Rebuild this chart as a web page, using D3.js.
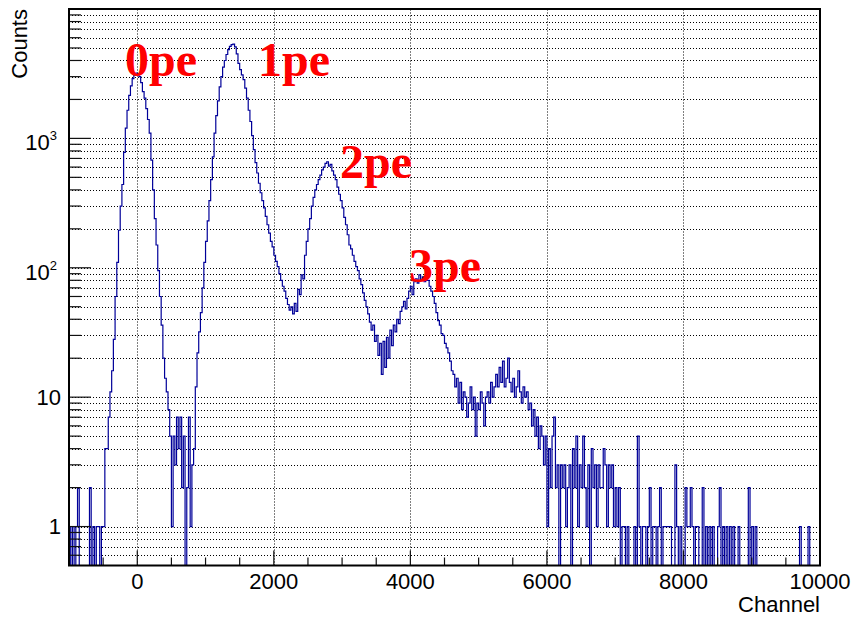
<!DOCTYPE html>
<html>
<head>
<meta charset="utf-8">
<script src="https://cdn.jsdelivr.net/npm/d3@7"></script>
<style>
body { margin: 0; background: #fff; }
</style>
</head>
<body>
<div id="chart"></div>
<script>
// histogram settings: 440 bins of 25 channels starting at -1000
var binStart = -1000;
var binWidth = 25;

// counts per bin (20 bins per row)
var counts = [
  1,0,1,0,1,2,0,0,0,0, 0,0,2,0,1,0,1,1,0,1,
  1,4,4,7,11,16,28,60,110,195, 300,440,780,1200,1650,2150,2550,2900,3100,3200,
  3150,3000,2700,2300,2050,1700,1400,1100,680,400, 240,150,95,60,36,20,14,11,8,5,
  1,5,3,7,4,7,2,5,0,2, 7,1,3,4,12,22,32,45,70,110,
  160,230,330,480,720,1100,1500,1950,2500,3000, 3550,4000,4450,4850,5150,5300,5350,5100,4500,3800,
  3400,3100,2850,2450,2050,1650,1350,1050,820,650, 540,450,380,330,290,250,215,185,160,145,
  125,112,102,90,80,72,66,58,52,47, 50,44,53,46,68,62,88,82,125,160,
  200,240,300,350,400,440,480,520,570,600, 640,660,610,630,560,520,480,420,370,330,
  290,245,215,180,150,140,125,112,102,95, 82,74,64,56,50,44,38,33,36,27,
  30,21,26,15,27,17,29,20,33,25, 36,32,40,37,46,50,55,48,58,66,
  72,62,78,82,76,88,80,85,78,86, 80,72,66,60,53,45,39,36,31,30,
  26,24,22,19,16,15,12,14,9,13, 8,11,10,7,9,12,8,10,5,9,
  8,11,9,6,10,11,9,13,10,12, 15,12,17,13,19,12,14,20,13,11,
  14,10,12,16,11,9,12,10,11,8, 9,6,8,5,7,4,6,5,3,5,
  1,4,2,5,7,2,3,0,3,2, 3,1,2,3,0,4,2,5,1,3,
  2,5,2,1,3,0,4,2,3,1, 3,2,2,4,3,1,3,2,3,1,
  2,1,2,0,1,1,0,1,0,0, 0,1,0,5,1,0,1,1,0,1,
  2,0,1,1,0,1,2,0,1,1, 1,1,1,0,0,3,1,0,1,0,
  0,2,1,1,2,1,0,1,1,0, 0,2,0,1,0,1,0,1,0,0,
  1,2,0,1,0,1,0,1,0,1, 0,0,1,0,0,0,0,0,2,0,
  1,0,1,0,0,0,0,0,0,0, 0,0,0,0,0,0,0,0,0,0,
  0,0,0,0,0,0,0,0,1,0, 0,0,0,1,0,0,0,0,0,0
];

// axis ticks and labels
var xMajor = [0, 2000, 4000, 6000, 8000, 10000];
var yMajor = [1, 10, 100, 1000];
var yBase = ["1", "10", "10", "10"];
var yPow = ["", "", "2", "3"];

// peak annotations (channel, counts at baseline)
var peakNames = ["0pe", "1pe", "2pe", "3pe"];
var peakX = [-180, 1768, 2969, 3980];
var peakY = [3020, 3020, 493, 78];

var W = 866, H = 620;
var frame = {left: 69, right: 820, top: 9, bottom: 565.5};

var svg = d3.select("#chart").append("svg")
    .attr("width", W)
    .attr("height", H)
    .style("font-family", "'Liberation Sans', Arial, sans-serif");

var x = d3.scaleLinear().domain([-1000, 10000]).range([frame.left, frame.right]);
var y = d3.scaleLog().domain([0.5, 10000]).range([frame.bottom, frame.top]);

// minor ticks of the log axis: 2..9 in every decade
var yMinor = [];
[0.1, 1, 10, 100, 1000].forEach(function(d) {
    for (var k = 2; k <= 9; k++) {
        var v = d * k;
        if (v > 0.5 && v < 10000) yMinor.push(v);
    }
});
var xMinor = d3.range(-500, 10000, 500).filter(function(v) { return xMajor.indexOf(v) < 0; });

// grid
var grid = svg.append("g").attr("stroke", "#000").attr("stroke-width", 1)
    .attr("stroke-dasharray", "1,2");
grid.selectAll(".hg")
    .data(yMajor.concat(yMinor))
    .enter().append("line")
    .attr("x1", frame.left).attr("x2", frame.right)
    .attr("y1", d => Math.round(y(d)) + 0.5)
    .attr("y2", d => Math.round(y(d)) + 0.5);
grid.selectAll(".vg")
    .data(xMajor.slice(0, -1))
    .enter().append("line")
    .attr("y1", frame.bottom).attr("y2", frame.top)
    .attr("x1", d => Math.round(x(d)) + 0.5)
    .attr("x2", d => Math.round(x(d)) + 0.5);

// histogram as a step line
svg.append("clipPath").attr("id", "clip")
    .append("rect").attr("x", frame.left).attr("y", frame.top)
    .attr("width", frame.right - frame.left).attr("height", frame.bottom - frame.top);

var pts = counts.map(function(c, i) { return [binStart + i * binWidth, c]; });
pts.push([binStart + counts.length * binWidth, counts[counts.length - 1]]);

var line = d3.line()
    .x(d => x(d[0]))
    .y(d => d[1] > 0 ? y(d[1]) : frame.bottom + 3)
    .curve(d3.curveStepAfter);

svg.append("path")
    .datum(pts)
    .attr("clip-path", "url(#clip)")
    .attr("fill", "none")
    .attr("stroke", "#000099")
    .attr("stroke-width", 1.2)
    .attr("d", line);

// ticks
var ticks = svg.append("g").attr("stroke", "#111").attr("stroke-width", 1.2);
ticks.selectAll(".ym")
    .data(yMajor).enter().append("line")
    .attr("x1", frame.left).attr("x2", frame.left + 22)
    .attr("y1", d => y(d)).attr("y2", d => y(d));
ticks.selectAll(".yn")
    .data(yMinor).enter().append("line")
    .attr("x1", frame.left).attr("x2", frame.left + 12)
    .attr("y1", d => y(d)).attr("y2", d => y(d));
ticks.selectAll(".xm")
    .data(xMajor).enter().append("line")
    .attr("y1", frame.bottom).attr("y2", frame.bottom - 15)
    .attr("x1", d => x(d)).attr("x2", d => x(d));
ticks.selectAll(".xn")
    .data(xMinor).enter().append("line")
    .attr("y1", frame.bottom).attr("y2", frame.bottom - 8)
    .attr("x1", d => x(d)).attr("x2", d => x(d));

// frame
svg.append("rect")
    .attr("x", frame.left).attr("y", frame.top)
    .attr("width", frame.right - frame.left).attr("height", frame.bottom - frame.top)
    .attr("fill", "none").attr("stroke", "#000").attr("stroke-width", 2);

// x tick labels
svg.selectAll(".xl")
    .data(xMajor).enter().append("text")
    .attr("x", d => x(d))
    .attr("y", frame.bottom + 23.5)
    .attr("text-anchor", "middle")
    .attr("font-size", 22)
    .text(d => d);

// y tick labels with superscript powers
yMajor.forEach(function(v, i) {
    var t = svg.append("text")
        .attr("font-size", 22)
        .attr("text-anchor", "end");
    if (yPow[i] === "") {
        t.attr("x", frame.left - 8).attr("y", y(v) + 7.5).text(yBase[i]);
    } else {
        t.attr("x", frame.left - 12).attr("y", y(v) + 12);
        t.append("tspan").text(yBase[i]);
        t.append("tspan").attr("font-size", 13).attr("dy", -10).text(yPow[i]);
    }
});

// axis titles
svg.append("text")
    .attr("x", frame.right).attr("y", 612)
    .attr("text-anchor", "end")
    .attr("font-size", 22)
    .text("Channel");

svg.append("text")
    .attr("transform", "translate(27," + frame.top + ") rotate(-90)")
    .attr("text-anchor", "end")
    .attr("font-size", 22)
    .text("Counts");

// peak labels
svg.selectAll(".pk")
    .data(peakNames).enter().append("text")
    .attr("x", (d, i) => x(peakX[i]))
    .attr("y", (d, i) => y(peakY[i]))
    .attr("fill", "#ff0000")
    .attr("font-family", "'Liberation Serif', 'Times New Roman', serif")
    .attr("font-weight", "bold")
    .attr("font-size", 48)
    .text(d => d);
</script>
</body>
</html>
